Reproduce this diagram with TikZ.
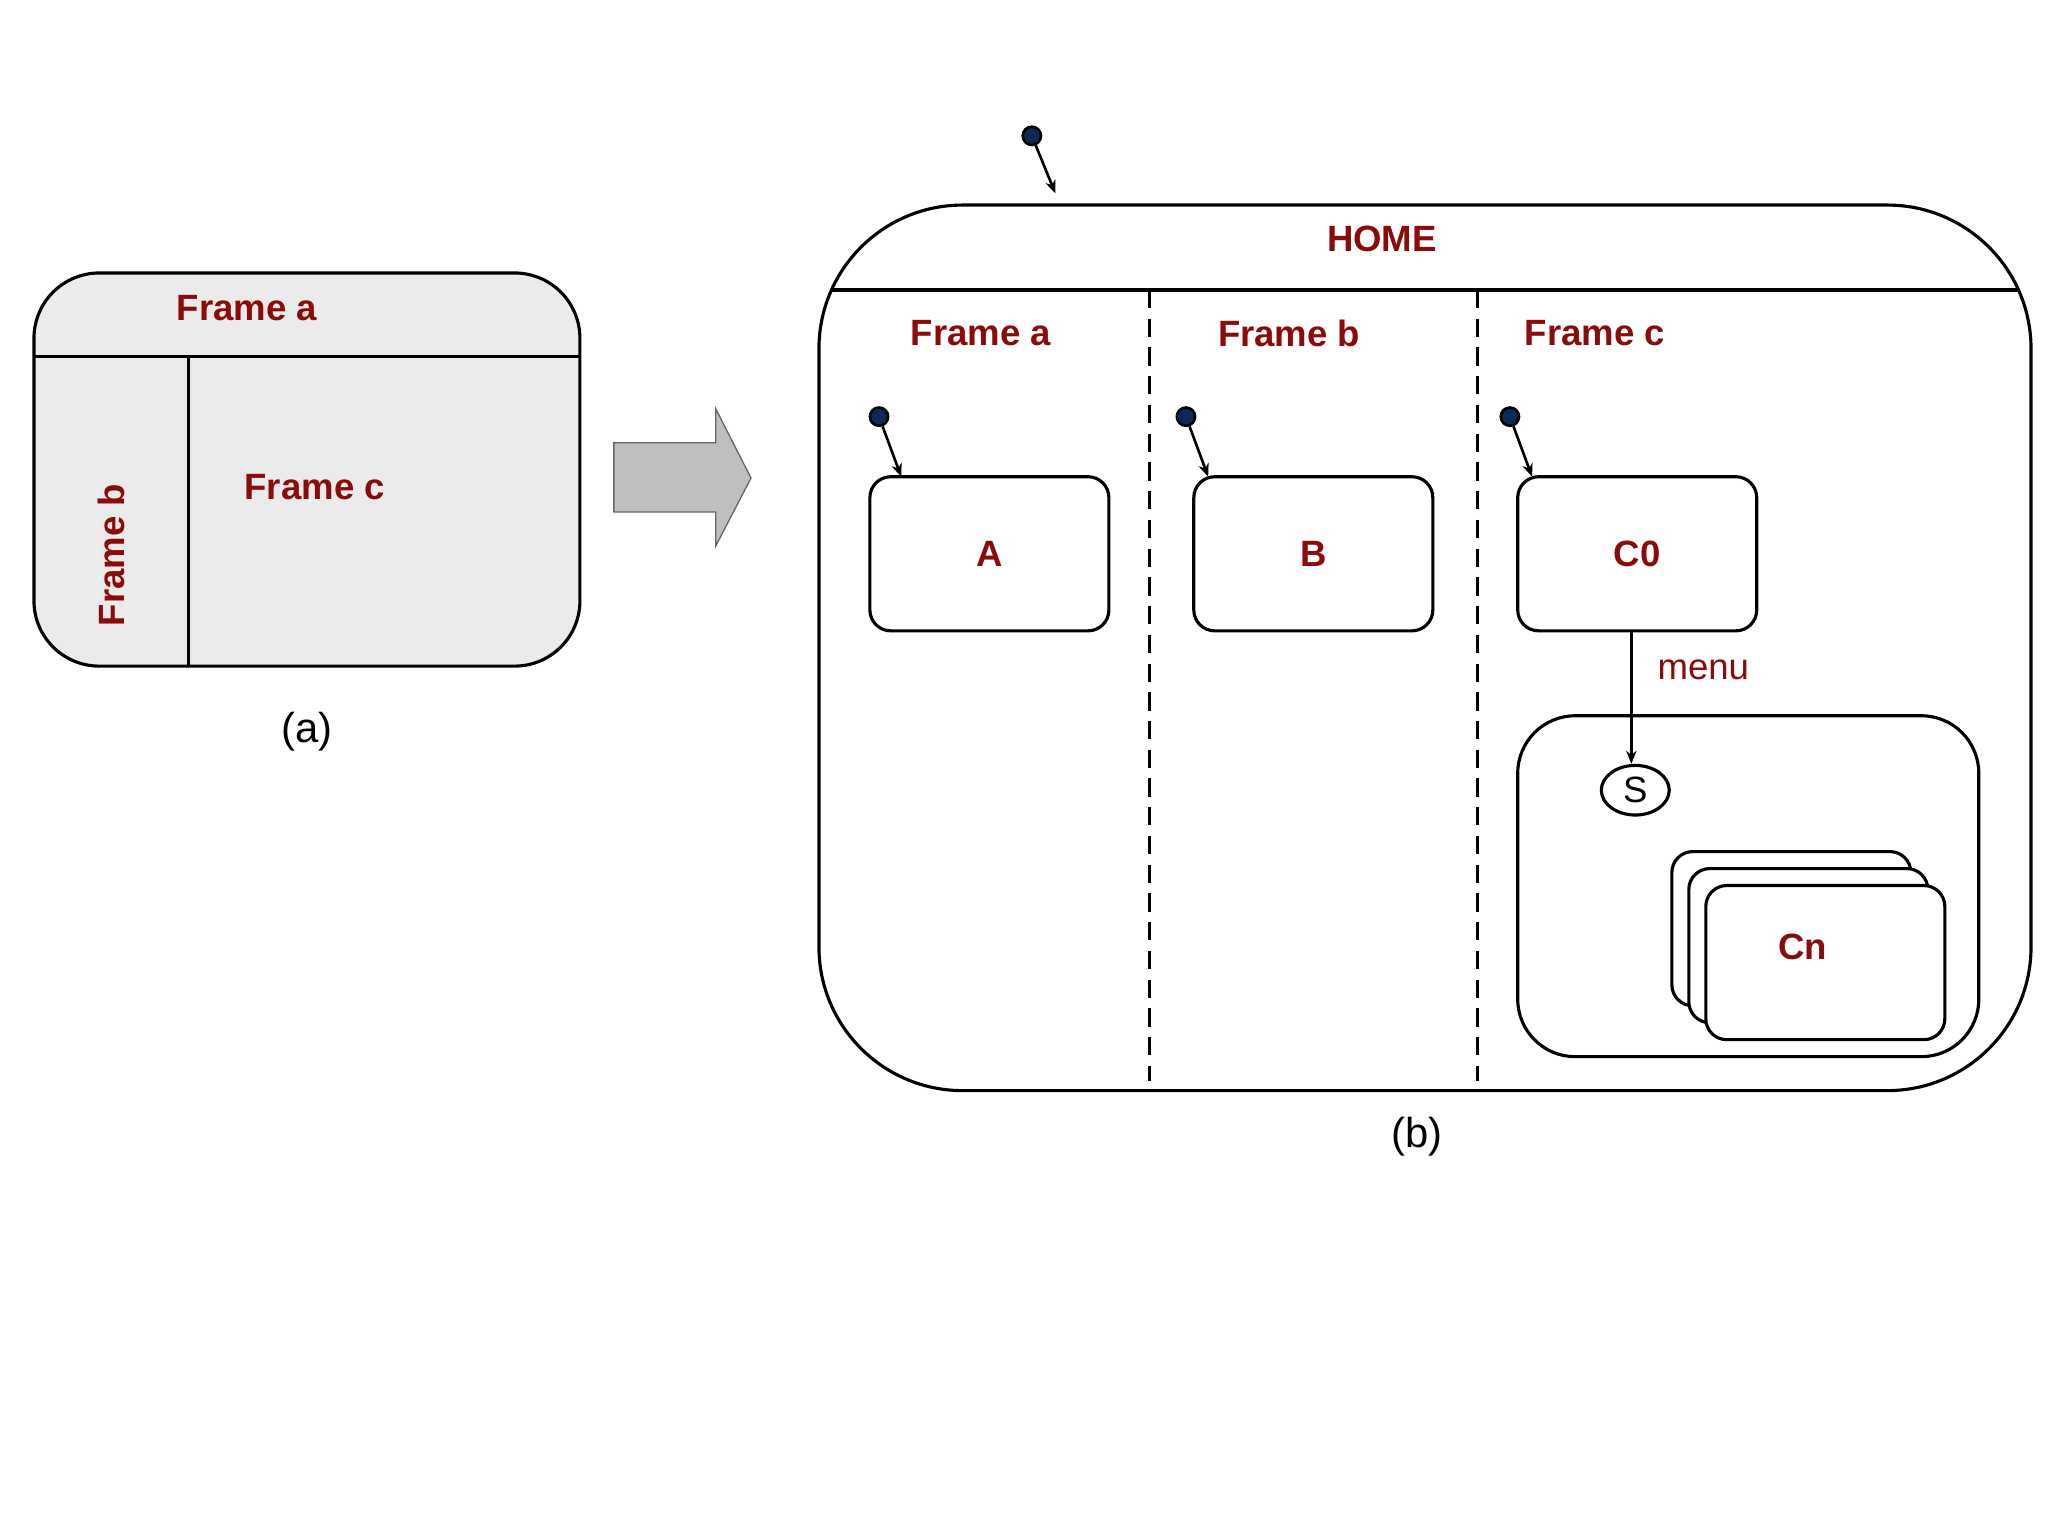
\documentclass[tikz,border=0pt]{standalone}
\usepackage{fontspec}
\setmainfont{Liberation Sans}
\usetikzlibrary{arrows.meta,shapes.geometric}
\definecolor{dred}{HTML}{8B0A0A}
\definecolor{dnavy}{HTML}{0B2A55}
\begin{document}
\begin{tikzpicture}[x=0.5pt,y=-0.5pt,
  lbl/.style={text=dred,font=\fontsize{14}{16}\selectfont\bfseries},
  captxt/.style={font=\fontsize{16}{18}\selectfont},
  st/.style={draw,line width=1.2pt,rounded corners=8pt,fill=white},
  ini/.style={circle,draw,line width=1pt,fill=dnavy,inner sep=0pt,minimum size=7pt},
  tr/.style={-{Stealth[length=5pt,width=4pt]},line width=1pt}]
\useasboundingbox (0,0) rectangle (1568,1176);
% (a)
\draw[line width=1.2pt,fill=black!8,rounded corners=25pt] (26,209) rectangle (444,510);
\draw[line width=1.2pt] (26,273) -- (444,273) (144,273) -- (144,510);
\node[lbl] (fa) at (189,236) {Frame a};
\node[lbl] (fc) at (241,373) {Frame c};
\node[lbl,rotate=90] (fb) at (85,425) {Frame b};
\node[captxt] (capa) at (235,560) {(a)};
% block arrow
\draw[black!60,fill=black!25,line width=0.5pt] (470,339) -- (548,339) -- (548,313) -- (575,366) -- (548,418) -- (548,392) -- (470,392) -- cycle;
% (b)
\begin{scope}
\path[clip,rounded corners=55pt] (627,157) rectangle (1555,835);
\draw[line width=1.2pt] (600,222) -- (1580,222);
\end{scope}
\draw[line width=1.2pt,rounded corners=55pt] (627,157) rectangle (1555,835);
\draw[line width=1.2pt,dash pattern=on 7pt off 4pt] (880,222) -- (880,828) (1131,222) -- (1131,828);
\node[lbl] (home) at (1058,183) {HOME};
\node[lbl] (fa2) at (751,255) {Frame a};
\node[lbl] (fb2) at (987,255) {Frame b};
\node[lbl] (fc2) at (1221,255) {Frame c};
\node[ini] (i0) at (790,104) {};
\coordinate (h0) at (808,148);
\draw[tr] (i0) -- (h0);
\node[st,minimum width=91.5pt,minimum height=59pt,lbl] (A) at (757.5,424) {A};
\node[st,minimum width=91.5pt,minimum height=59pt,lbl] (B) at (1005.5,424) {B};
\node[st,minimum width=91.5pt,minimum height=59pt,lbl] (C0) at (1253.5,424) {C0};
\node[ini] (i1) at (673,319) {};
\node[ini] (i2) at (908,319) {};
\node[ini] (i3) at (1156,319) {};
\draw[tr] (i1) -- (690,365);
\draw[tr] (i2) -- (925,365);
\draw[tr] (i3) -- (1173,365);
\draw[line width=1.2pt,rounded corners=22pt] (1162,548) rectangle (1515,809);
\node[ellipse,draw,line width=1.2pt,minimum width=26pt,minimum height=19pt,inner sep=0pt,font=\fontsize{14}{16}\selectfont] (S) at (1252,605) {S};
\draw[tr] (1249,483) -- (S.north -| 1249,0);
\node[text=dred,font=\fontsize{14}{16}\selectfont,anchor=west] (menu) at (1262,513) {menu};
\node[st,minimum width=91.5pt,minimum height=59pt] (c1) at (1371.5,711) {};
\node[st,minimum width=91.5pt,minimum height=59pt] (c2) at (1384.5,724) {};
\node[st,minimum width=91.5pt,minimum height=59pt,lbl] (Cn) at (1397.5,737) {};
\node[lbl] (cnl) at (1380,725) {Cn};
\node[captxt] (capb) at (1085,870) {(b)};
\end{tikzpicture}
\end{document}
